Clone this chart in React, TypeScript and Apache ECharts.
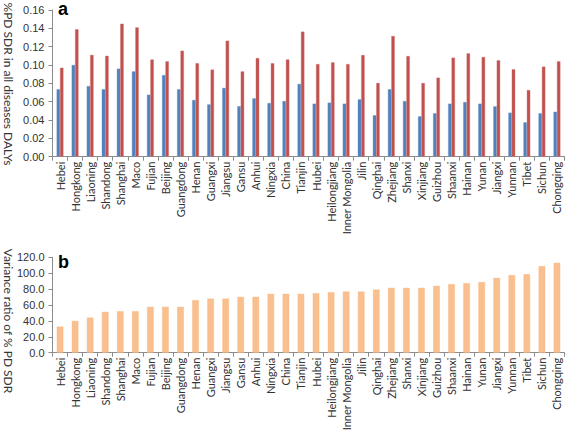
import React, { useEffect, useRef } from "react";
import * as echarts from "echarts";

const categories = ["Hebei","Hongkong","Liaoning","Shandong","Shanghai","Maco","Fujian","Beijing","Guangdong","Henan","Guangxi","Jiangsu","Gansu","Anhui","Ningxia","China","Tianjin","Hubei","Heilongjiang","Inner Mongolia","Jilin","Qinghai","Zhejiang","Shanxi","Xinjiang","Guizhou","Shaanxi","Hainan","Yunan","Jiangxi","Yunnan","Tibet","Sichun","Chongqing"];

const blueValues = [0.0735,0.100,0.077,0.0735,0.096,0.093,0.0676,0.089,0.0735,0.0618,0.057,0.075,0.055,0.0636,0.0585,0.0607,0.0793,0.0578,0.0589,0.0578,0.0625,0.0451,0.0735,0.0607,0.044,0.0473,0.0578,0.0596,0.0578,0.0549,0.048,0.0375,0.0473,0.049];

const redValues = [0.097,0.139,0.111,0.110,0.145,0.141,0.106,0.104,0.1156,0.102,0.095,0.1265,0.093,0.1076,0.102,0.106,0.1364,0.101,0.1029,0.101,0.1109,0.0804,0.1316,0.1098,0.0804,0.0862,0.108,0.1127,0.1087,0.1051,0.0953,0.0727,0.0982,0.104];

const varianceValues = [32.8,39.9,44.1,51.3,52.1,52.1,57.6,57.6,57.6,66,68,68,70.2,70.2,74,74,74,74.8,76,76.9,76.9,79.4,81.5,81.5,81.5,84,86.1,87.4,88.7,94.1,97.5,98.7,108.8,113];

const topTicksMax = 0.16;
const topTicksStep = 0.02;
const bottomTicksMax = 120;
const bottomTicksStep = 20;

const topTitle = "%PD SDR in all diseases DALYs";
const bottomTitle = "Variance ratio of % PD SDR";

export default function App() {
  const ref = useRef<HTMLDivElement>(null);
  useEffect(() => {
    document.body.style.margin = "0";
    const chart = echarts.init(ref.current!, null, { renderer: "svg" });
    const axisColor = "#8c8c8c";
    const textColor = "#333";
    const catAxis = (gridIndex: number) => ({
      type: "category",
      gridIndex,
      data: categories,
      axisLine: { lineStyle: { color: axisColor } },
      axisTick: { show: true, length: 4, lineStyle: { color: axisColor } },
      axisLabel: {
        rotate: 90,
        interval: 0,
        margin: 5,
        fontFamily: "Lato",
        fontSize: 11,
        color: textColor,
      },
    });
    const valAxis = (gridIndex: number, max: number, step: number, dec: number) => ({
      type: "value",
      gridIndex,
      min: 0,
      max,
      interval: step,
      splitLine: { show: false },
      axisLine: { show: true, lineStyle: { color: axisColor } },
      axisTick: { show: true, length: 4, lineStyle: { color: axisColor } },
      axisLabel: {
        margin: 8,
        fontFamily: "Liberation Sans",
        fontSize: 11,
        color: textColor,
        formatter: (v: number) => v.toFixed(dec),
      },
    });
    chart.setOption({
      animation: false,
      grid: [
        { left: 52.5, right: 2.5, top: 10, height: 146.7 },
        { left: 52.5, right: 2.5, top: 257.3, height: 95.4 },
      ],
      xAxis: [catAxis(0), catAxis(1)],
      yAxis: [
        valAxis(0, topTicksMax, topTicksStep, 2),
        valAxis(1, bottomTicksMax, bottomTicksStep, 1),
      ],
      series: [
        {
          type: "bar",
          xAxisIndex: 0,
          yAxisIndex: 0,
          data: blueValues,
          barWidth: 3.4,
          barGap: "0%",
          itemStyle: { color: "#4f81bd", borderColor: "#6a95cc", borderWidth: 0.4 },
        },
        {
          type: "bar",
          xAxisIndex: 0,
          yAxisIndex: 0,
          data: redValues,
          barWidth: 3.4,
          barGap: "0%",
          itemStyle: { color: "#c0504d", borderColor: "#d27a77", borderWidth: 0.4 },
        },
        {
          type: "bar",
          xAxisIndex: 1,
          yAxisIndex: 1,
          data: varianceValues,
          barWidth: 6.5,
          itemStyle: { color: "#fabf8f", borderColor: "#f7b27a", borderWidth: 0.4 },
        },
      ],
      graphic: [
        {
          type: "text",
          x: 8,
          y: 84,
          rotation: -Math.PI / 2,
          style: {
            text: topTitle,
            fontFamily: "Lato",
            fontSize: 12,
            fill: textColor,
            align: "center",
            verticalAlign: "middle",
          },
        },
        {
          type: "text",
          x: 8,
          y: 321,
          rotation: -Math.PI / 2,
          style: {
            text: bottomTitle,
            fontFamily: "Lato",
            fontSize: 12,
            fill: textColor,
            align: "center",
            verticalAlign: "middle",
          },
        },
        {
          type: "text",
          x: 58,
          y: 9,
          style: {
            text: "a",
            fontFamily: "Liberation Sans",
            fontWeight: "bold",
            fontSize: 18,
            fill: "#000",
            align: "left",
            verticalAlign: "middle",
          },
        },
        {
          type: "text",
          x: 58,
          y: 262,
          style: {
            text: "b",
            fontFamily: "Liberation Sans",
            fontWeight: "bold",
            fontSize: 18,
            fill: "#000",
            align: "left",
            verticalAlign: "middle",
          },
        },
      ],
    });
    return () => chart.dispose();
  }, []);
  return <div ref={ref} style={{ width: 567, height: 435 }} />;
}
